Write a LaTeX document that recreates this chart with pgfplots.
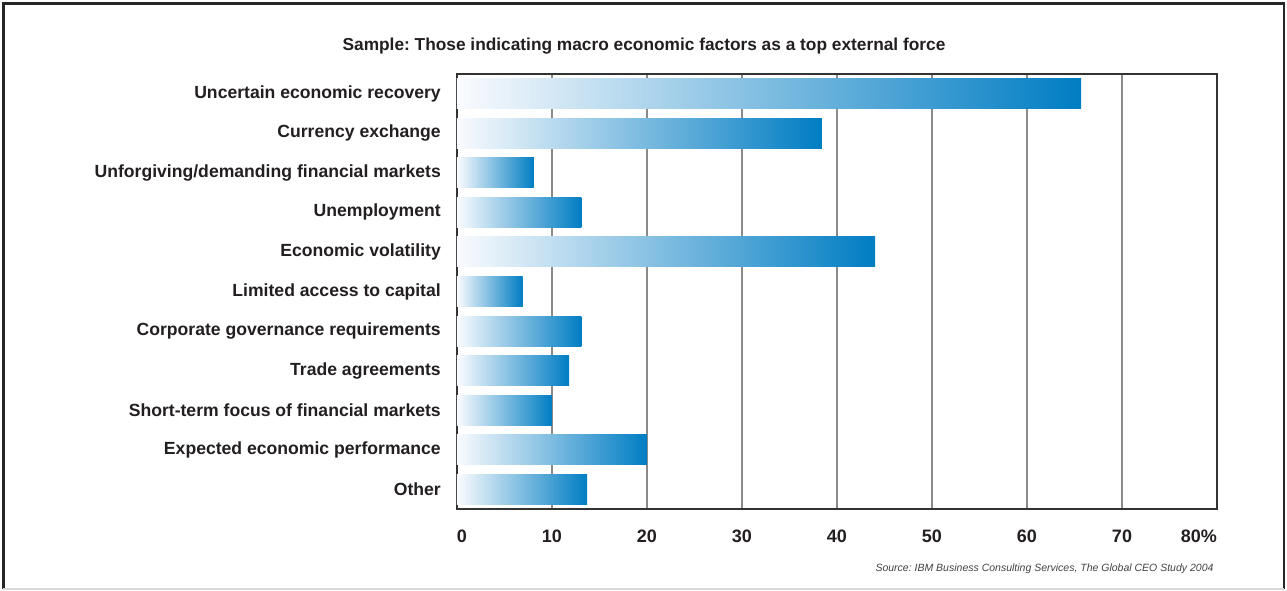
\documentclass[border=0pt]{standalone}
\usepackage{pgfplots}
\pgfplotsset{compat=1.18}
\usepackage{fontspec}
\setmainfont{Liberation Sans}
\frenchspacing
\definecolor{barblue}{RGB}{0,125,195}
\definecolor{barmid}{RGB}{168,190,228}
\definecolor{barleft}{RGB}{250,251,254}
\definecolor{txt}{RGB}{35,31,32}
\definecolor{gridgray}{RGB}{138,138,138}
\begin{document}
\begin{tikzpicture}[x=1pt,y=1pt]
\useasboundingbox (-457,-81) rectangle (830,509);
\begin{axis}[
  at={(0,0)}, anchor=south west,
  scale only axis, width=760pt, height=435pt,
  xmin=0, xmax=80, ymin=-0.5, ymax=10.5, y dir=reverse,
  xbar, bar width=30pt, bar shift=0pt,
  xtick={0,10,...,80},
  xticklabels={\makebox[0pt][l]{0},10,20,30,40,50,60,70,\makebox[0pt][r]{80\%}},
  ytick={0,...,10},
  yticklabels={Uncertain economic recovery,Currency exchange,Unforgiving/demanding financial markets,Unemployment,Economic volatility,Limited access to capital,Corporate governance requirements,Trade agreements,Short-term focus of financial markets,Expected economic performance,Other},
  major tick length=0pt,
  xmajorgrids, grid style={gridgray, line width=1.3pt},
  axis line style={black!80, line width=1.3pt},
  xticklabel style={font=\fontsize{18}{20}\selectfont\bfseries, text=txt, inner sep=0pt, yshift=-21pt},
  yticklabel style={font=\fontsize{17.6}{20}\selectfont\bfseries, text=txt, inner sep=0pt, xshift=-16pt},
  every axis plot/.append style={draw=none, left color=barleft, middle color=barmid, right color=barblue},
]
\addplot coordinates {(65.7,0)};
\addplot coordinates {(38.4,1)};
\addplot coordinates {(8.1,2)};
\addplot coordinates {(13.1,3)};
\addplot coordinates {(44.0,4)};
\addplot coordinates {(6.9,5)};
\addplot coordinates {(13.1,6)};
\addplot coordinates {(11.8,7)};
\addplot coordinates {(10.0,8)};
\addplot coordinates {(20.0,9)};
\addplot coordinates {(13.7,10)};
\end{axis}
\node[anchor=base, font=\fontsize{17.3}{20}\selectfont\bfseries, text=txt] at (187,458) {Sample: Those indicating macro economic factors as a top external force};
\node[anchor=base east, font=\fontsize{10.5}{12}\selectfont\itshape, text=txt!85] at (760,-62) {Source: IBM Business Consulting Services, The Global CEO Study 2004};
\draw[black!85, line width=2.5pt] (-453.5,-80) -- (-453.5,505.5) -- (827,505.5) -- (827,-80);
\draw[black!15, line width=1.5pt] (-453.5,-80) -- (827,-80);
\end{tikzpicture}
\end{document}
